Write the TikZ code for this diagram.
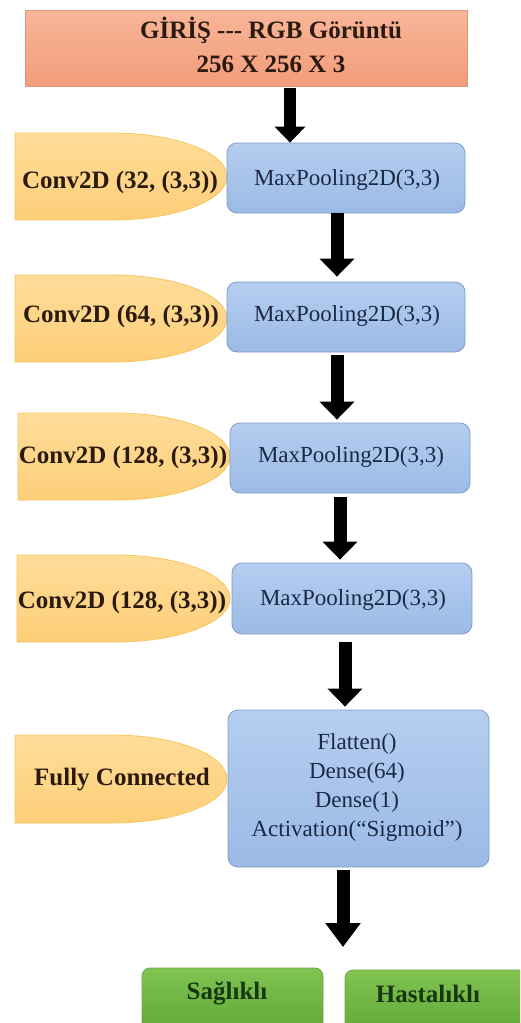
\documentclass[tikz,border=0pt]{standalone}
\usepackage{fontspec}
\setmainfont{Liberation Serif}
\usetikzlibrary{arrows.meta}

\definecolor{salmonTop}{HTML}{F8B698}
\definecolor{salmonBot}{HTML}{F29C7A}
\definecolor{salmonLine}{HTML}{D9977C}
\definecolor{yelTop}{HTML}{FFDD9A}
\definecolor{yelBot}{HTML}{FDCE78}
\definecolor{yelLine}{HTML}{F5C65C}
\definecolor{bluTop}{HTML}{B5CEF0}
\definecolor{bluBot}{HTML}{9BBAE5}
\definecolor{bluLine}{HTML}{7E9CCB}
\definecolor{grnTop}{HTML}{80C452}
\definecolor{grnBot}{HTML}{5EA534}
\definecolor{grnLine}{HTML}{6FA64C}
\definecolor{txtDark}{HTML}{2A1A10}
\definecolor{txtBlue}{HTML}{1C2946}
\definecolor{txtGreen}{HTML}{17380E}

\tikzset{
  inputbox/.style={draw=salmonLine, line width=0.8pt, top color=salmonTop, bottom color=salmonBot,
    minimum width=442pt, minimum height=76pt, inner sep=0pt},
  layerbox/.style={draw=bluLine, line width=0.8pt, top color=bluTop, bottom color=bluBot,
    rounded corners=10pt, inner sep=0pt},
  lobe/.style={draw=yelLine, line width=0.8pt, top color=yelTop, bottom color=yelBot},
  classbox/.style={draw=grnLine, line width=0.8pt, top color=grnTop, bottom color=grnBot,
    rounded corners=8pt, inner sep=0pt},
  boldtxt/.style={font=\fontsize{25}{30}\selectfont\bfseries, text=txtDark, inner sep=0pt},
  layertxt/.style={font=\fontsize{23}{29}\selectfont, text=txtBlue, inner sep=0pt, align=center},
  classtxt/.style={font=\fontsize{25}{30}\selectfont\bfseries, text=txtGreen, inner sep=0pt},
  flowarrow/.style={line width=13pt, black, -{Triangle[width=34pt,length=18pt]}},
}

% half-rounded label shape: flat left side, elliptic right end
\newcommand{\yellowlobe}[4]{% x left, y top, x right, y bottom
  \path[lobe] (#1,#2) -- ({#3-115},#2)
    arc[start angle=90, end angle=-90, x radius=115, y radius={(#2-(#4))/2}]
    -- (#1,#4) -- cycle;}

\begin{document}
\begin{tikzpicture}[x=1pt,y=1pt]
\useasboundingbox (0,0) rectangle (520,-1023);
\fill[white] (0,0) rectangle (520,-1023);
\clip (0,0) rectangle (520,-1023);

% input
\node[inputbox] (input) at (246,-48) {};
\node[boldtxt, align=center, font=\fontsize{25}{34}\selectfont\bfseries] (inputtxt) at (271,-45)
  {GİRİŞ -{}-{}- RGB Görüntü\\256 X 256 X 3};

% convolution labels
\yellowlobe{15}{-133}{227}{-220}
\yellowlobe{15}{-275}{227}{-362}
\yellowlobe{18}{-413}{230}{-500}
\yellowlobe{17}{-555}{230}{-642}
\yellowlobe{15}{-735}{227}{-823}

% layer boxes
\node[layerbox, minimum width=238pt, minimum height=70pt] (mp1) at (346,-178) {};
\node[layerbox, minimum width=238pt, minimum height=70pt] (mp2) at (346,-317) {};
\node[layerbox, minimum width=240pt, minimum height=70pt] (mp3) at (350,-458) {};
\node[layerbox, minimum width=240pt, minimum height=71pt] (mp4) at (352,-598.5) {};
\node[layerbox, minimum width=261pt, minimum height=157pt] (fc) at (358.5,-788.5) {};

\node[layertxt] (mp1txt) at (347,-180) {MaxPooling2D(3,3)};
\node[layertxt] (mp2txt) at (347,-316) {MaxPooling2D(3,3)};
\node[layertxt] (mp3txt) at (351,-457) {MaxPooling2D(3,3)};
\node[layertxt] (mp4txt) at (353,-600) {MaxPooling2D(3,3)};
\node[layertxt] (fctxt) at (357,-787) {Flatten()\\Dense(64)\\Dense(1)\\Activation(“Sigmoid”)};

\node[boldtxt] (c1) at (120,-182) {Conv2D (32, (3,3))};
\node[boldtxt] (c2) at (121,-316) {Conv2D (64, (3,3))};
\node[boldtxt] (c3) at (123,-457) {Conv2D (128, (3,3))};
\node[boldtxt] (c4) at (122,-602) {Conv2D (128, (3,3))};
\node[boldtxt] (c5) at (122,-780) {Fully Connected};

% output classes
\node[classbox, minimum width=181pt, minimum height=70pt] (healthy) at (232.5,-1003) {};
\node[classbox, minimum width=190pt, minimum height=70pt] (sick) at (440,-1005) {};
\node[classtxt] (healthytxt) at (227,-993) {Sağlıklı};
\node[classtxt] (sicktxt) at (428,-994) {Hastalıklı};

% flow arrows
\draw[flowarrow, line width=12pt, -{Triangle[width=30pt,length=16pt]}]
  ([xshift=44pt,yshift=-2pt]input.south) -- ([xshift=-56pt]mp1.north);
\draw[flowarrow] ([xshift=-9pt]mp1.south) -- ([xshift=-9pt,yshift=5pt]mp2.north);
\draw[flowarrow] ([xshift=-9pt,yshift=-3pt]mp2.south) -- ([xshift=-13pt,yshift=3pt]mp3.north);
\draw[flowarrow] ([xshift=-10pt,yshift=-4pt]mp3.south) -- ([xshift=-12pt,yshift=3pt]mp4.north);
\draw[flowarrow] ([xshift=-7pt,yshift=-8pt]mp4.south) -- ([xshift=-13.5pt,yshift=3pt]fc.north);
\coordinate (outtip) at (343,-947);
\draw[flowarrow, -{Triangle[width=34pt,length=24pt]}] ([xshift=-15.5pt,yshift=-3pt]fc.south) -- (outtip);
\end{tikzpicture}
\end{document}
